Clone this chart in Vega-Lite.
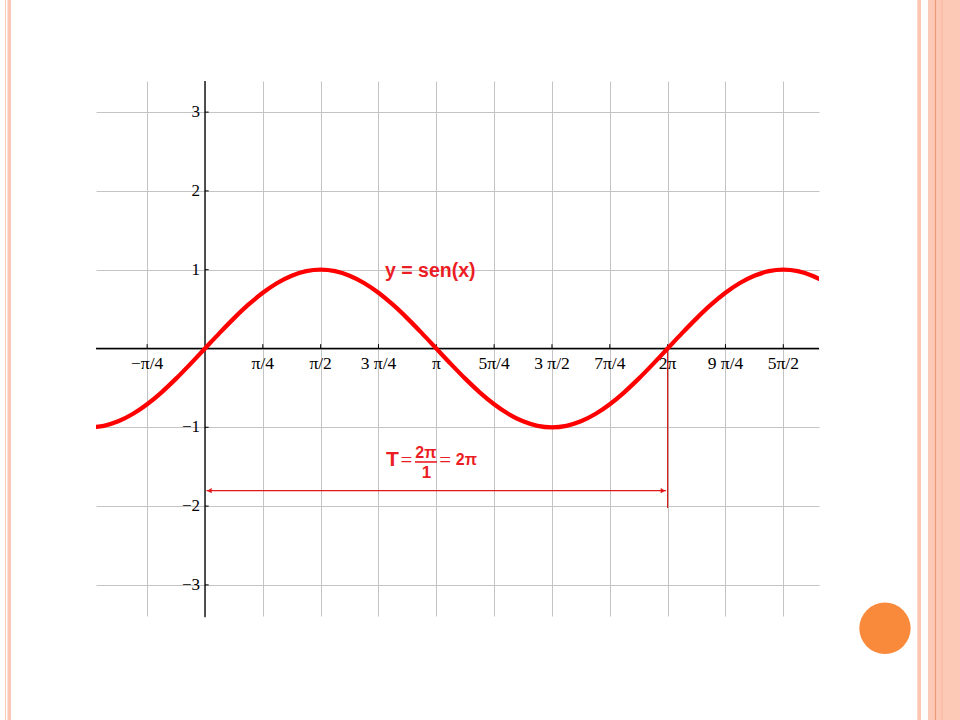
{
  "$schema": "https://vega.github.io/schema/vega-lite/v6.json",
  "width": 723,
  "height": 535,
  "autosize": {"type": "none"},
  "padding": {"left": 96, "top": 81, "right": 141, "bottom": 104},
  "background": "white",
  "config": {"view": {"stroke": null}},
  "datasets": {
    "curve": [
      {"x": -1.48, "y": -0.99588},
      {"x": -1.37445, "y": -0.98079},
      {"x": -1.1781, "y": -0.92388},
      {"x": -0.98175, "y": -0.83147},
      {"x": -0.7854, "y": -0.70711},
      {"x": -0.58905, "y": -0.55557},
      {"x": -0.3927, "y": -0.38268},
      {"x": -0.19635, "y": -0.19509},
      {"x": 0, "y": 0},
      {"x": 0.19635, "y": 0.19509},
      {"x": 0.3927, "y": 0.38268},
      {"x": 0.58905, "y": 0.55557},
      {"x": 0.7854, "y": 0.70711},
      {"x": 0.98175, "y": 0.83147},
      {"x": 1.1781, "y": 0.92388},
      {"x": 1.37445, "y": 0.98079},
      {"x": 1.5708, "y": 1},
      {"x": 1.76715, "y": 0.98079},
      {"x": 1.9635, "y": 0.92388},
      {"x": 2.15984, "y": 0.83147},
      {"x": 2.35619, "y": 0.70711},
      {"x": 2.55254, "y": 0.55557},
      {"x": 2.74889, "y": 0.38268},
      {"x": 2.94524, "y": 0.19509},
      {"x": 3.14159, "y": 0},
      {"x": 3.33794, "y": -0.19509},
      {"x": 3.53429, "y": -0.38268},
      {"x": 3.73064, "y": -0.55557},
      {"x": 3.92699, "y": -0.70711},
      {"x": 4.12334, "y": -0.83147},
      {"x": 4.31969, "y": -0.92388},
      {"x": 4.51604, "y": -0.98079},
      {"x": 4.71239, "y": -1},
      {"x": 4.90874, "y": -0.98079},
      {"x": 5.10509, "y": -0.92388},
      {"x": 5.30144, "y": -0.83147},
      {"x": 5.49779, "y": -0.70711},
      {"x": 5.69414, "y": -0.55557},
      {"x": 5.89049, "y": -0.38268},
      {"x": 6.08684, "y": -0.19509},
      {"x": 6.28319, "y": 0},
      {"x": 6.47953, "y": 0.19509},
      {"x": 6.67588, "y": 0.38268},
      {"x": 6.87223, "y": 0.55557},
      {"x": 7.06858, "y": 0.70711},
      {"x": 7.26493, "y": 0.83147},
      {"x": 7.46128, "y": 0.92388},
      {"x": 7.65763, "y": 0.98079},
      {"x": 7.85398, "y": 1},
      {"x": 8.05033, "y": 0.98079},
      {"x": 8.24668, "y": 0.92388},
      {"x": 8.339, "y": 0.8845}
    ],
    "xlab": [
      {"x": -0.7854, "y": 0, "t": "−π/4"},
      {"x": 0.7854, "y": 0, "t": "π/4"},
      {"x": 1.5708, "y": 0, "t": "π/2"},
      {"x": 2.3562, "y": 0, "t": "3 π/4"},
      {"x": 3.1416, "y": 0, "t": "π"},
      {"x": 3.927, "y": 0, "t": "5π/4"},
      {"x": 4.7124, "y": 0, "t": "3 π/2"},
      {"x": 5.4978, "y": 0, "t": "7π/4"},
      {"x": 6.2832, "y": 0, "t": "2π"},
      {"x": 7.0686, "y": 0, "t": "9 π/4"},
      {"x": 7.854, "y": 0, "t": "5π/2"}
    ],
    "ylab": [
      {"x": 0, "y": 3, "t": "3"},
      {"x": 0, "y": 2, "t": "2"},
      {"x": 0, "y": 1, "t": "1"},
      {"x": 0, "y": -1, "t": "−1"},
      {"x": 0, "y": -2, "t": "−2"},
      {"x": 0, "y": -3, "t": "−3"}
    ],
    "xticks": [
      {"x": -0.7854, "y": 0, "y2": 0.055},
      {"x": 0.7854, "y": 0, "y2": 0.055},
      {"x": 1.5708, "y": 0, "y2": 0.055},
      {"x": 2.3562, "y": 0, "y2": 0.055},
      {"x": 3.1416, "y": 0, "y2": 0.055},
      {"x": 3.927, "y": 0, "y2": 0.055},
      {"x": 4.7124, "y": 0, "y2": 0.055},
      {"x": 5.4978, "y": 0, "y2": 0.055},
      {"x": 6.2832, "y": 0, "y2": 0.055},
      {"x": 7.0686, "y": 0, "y2": 0.055},
      {"x": 7.854, "y": 0, "y2": 0.055}
    ],
    "yticks": [
      {"x": 0, "x2": 0.05, "y": 3},
      {"x": 0, "x2": 0.05, "y": 2},
      {"x": 0, "x2": 0.05, "y": 1},
      {"x": 0, "x2": 0.05, "y": -1},
      {"x": 0, "x2": 0.05, "y": -2},
      {"x": 0, "x2": 0.05, "y": -3}
    ],
    "hax": [{"x": -1.48, "x2": 8.339, "y": 0}],
    "vax": [{"x": 0, "y": -3.41, "y2": 3.395}],
    "arrowline": [{"x": 0.02, "x2": 6.26, "y": -1.805}],
    "vline": [{"x": 6.2832, "y": 0, "y2": -2.025}],
    "headL": [{"x": 0.06, "y": -1.805}],
    "headR": [{"x": 6.22, "y": -1.805}],
    "bar": [{"x": 2.852, "x2": 3.151, "y": -1.44}],
    "label": [{"x": 2.445, "y": 0.98, "t": "y = sen(x)"}],
    "tbig": [{"x": 2.458, "y": -1.415, "t": "T"}],
    "teq": [{"x": 2.655, "y": -1.425, "t": "="}, {"x": 3.18, "y": -1.425, "t": "="}],
    "tnum": [{"x": 3.001, "y": -1.326, "t": "2π"}, {"x": 3.551, "y": -1.42, "t": "2π"}],
    "tden": [{"x": 3.008, "y": -1.58, "t": "1"}],
    "stripeWide": [{"x": 9.82, "x2": 10.4, "y": -4.9, "y2": 4.6}],
    "stripeThin": [{"x": 9.674, "x2": 9.724, "y": -4.9, "y2": 4.6}, {"x": -2.716, "x2": -2.703, "y": -4.9, "y2": 4.6}, {"x": -2.682, "x2": -2.635, "y": -4.9, "y2": 4.6}],
    "stripeLine": [{"x": 9.921, "y": -4.9, "y2": 4.6}],
    "stripeLine2": [{"x": 10.01, "y": -4.9, "y2": 4.6}],
    "dot": [{"x": 9.235, "y": -3.551}]
  },
  "encoding": {
    "x": {
      "field": "x",
      "type": "quantitative",
      "scale": {"domain": [-1.48, 8.339], "nice": false, "zero": false},
      "axis": {
        "values": [-0.7854, 0, 0.7854, 1.5708, 2.3562, 3.1416, 3.927, 4.7124, 5.4978, 6.2832, 7.0686, 7.854],
        "grid": true, "gridColor": "#c4c4c4", "gridWidth": 1,
        "labels": false, "ticks": false, "domain": false, "title": null
      }
    },
    "y": {
      "field": "y",
      "type": "quantitative",
      "scale": {"domain": [-3.395, 3.395], "nice": false, "zero": false},
      "axis": {
        "values": [-3, -2, -1, 0, 1, 2, 3],
        "grid": true, "gridColor": "#c4c4c4", "gridWidth": 1,
        "labels": false, "ticks": false, "domain": false, "title": null
      }
    }
  },
  "layer": [
    {"data": {"name": "stripeWide"}, "mark": {"type": "rect", "color": "#fbc9b6"}, "encoding": {"x2": {"field": "x2"}, "y2": {"field": "y2"}}},
    {"data": {"name": "stripeThin"}, "mark": {"type": "rect", "color": "#fbc6b2"}, "encoding": {"x2": {"field": "x2"}, "y2": {"field": "y2"}}},
    {"data": {"name": "stripeLine"}, "mark": {"type": "rule", "color": "#ef9a78", "strokeWidth": 1.2}, "encoding": {"y2": {"field": "y2"}}},
    {"data": {"name": "stripeLine2"}, "mark": {"type": "rule", "color": "#f7b59c", "strokeWidth": 1}, "encoding": {"y2": {"field": "y2"}}},
    {"data": {"name": "dot"}, "mark": {"type": "point", "shape": "circle", "filled": true, "size": 2640, "color": "#f98a3b", "opacity": 1}},
    {"data": {"name": "hax"}, "mark": {"type": "rule", "color": "black", "strokeWidth": 1.3}, "encoding": {"x2": {"field": "x2"}}},
    {"data": {"name": "vax"}, "mark": {"type": "rule", "color": "black", "strokeWidth": 1.3}, "encoding": {"y2": {"field": "y2"}}},
    {"data": {"name": "xticks"}, "mark": {"type": "rule", "color": "black", "strokeWidth": 1}, "encoding": {"y2": {"field": "y2"}}},
    {"data": {"name": "yticks"}, "mark": {"type": "rule", "color": "black", "strokeWidth": 1}, "encoding": {"x2": {"field": "x2"}}},
    {"data": {"name": "vline"}, "mark": {"type": "rule", "color": "#d41a1a", "strokeWidth": 1.2}, "encoding": {"y2": {"field": "y2"}}},
    {"data": {"name": "arrowline"}, "mark": {"type": "rule", "color": "#e01818", "strokeWidth": 1.2}, "encoding": {"x2": {"field": "x2"}}},
    {"data": {"name": "headL"}, "mark": {"type": "point", "shape": "triangle-left", "filled": true, "size": 28, "color": "#e01818", "opacity": 1}},
    {"data": {"name": "headR"}, "mark": {"type": "point", "shape": "triangle-right", "filled": true, "size": 28, "color": "#e01818", "opacity": 1}},
    {"data": {"name": "xlab"}, "mark": {"type": "text", "font": "Liberation Serif", "fontSize": 17.5, "color": "black", "align": "center", "baseline": "alphabetic", "dy": 20}, "encoding": {"text": {"field": "t"}}},
    {"data": {"name": "ylab"}, "mark": {"type": "text", "font": "Liberation Serif", "fontSize": 17, "color": "black", "align": "right", "baseline": "middle", "dx": -5}, "encoding": {"text": {"field": "t"}}},
    {"data": {"name": "curve"}, "mark": {"type": "line", "color": "#ff0000", "strokeWidth": 4.3, "interpolate": "monotone", "clip": true, "strokeCap": "round"}},
    {"data": {"name": "label"}, "mark": {"type": "text", "font": "Liberation Sans", "fontWeight": "bold", "fontSize": 19.5, "color": "#ec1c24", "align": "left", "baseline": "middle"}, "encoding": {"text": {"field": "t"}}},
    {"data": {"name": "tbig"}, "mark": {"type": "text", "font": "Liberation Sans", "fontWeight": "bold", "fontSize": 21, "color": "#ec1c24", "align": "left", "baseline": "middle"}, "encoding": {"text": {"field": "t"}}},
    {"data": {"name": "teq"}, "mark": {"type": "text", "font": "Liberation Serif", "fontSize": 21, "color": "#ec1c24", "align": "left", "baseline": "middle"}, "encoding": {"text": {"field": "t"}}},
    {"data": {"name": "tnum"}, "mark": {"type": "text", "font": "Liberation Sans", "fontWeight": "bold", "fontSize": 16, "color": "#ec1c24", "align": "center", "baseline": "middle"}, "encoding": {"text": {"field": "t"}}},
    {"data": {"name": "tden"}, "mark": {"type": "text", "font": "Liberation Sans", "fontWeight": "bold", "fontSize": 17, "color": "#ec1c24", "align": "center", "baseline": "middle"}, "encoding": {"text": {"field": "t"}}},
    {"data": {"name": "bar"}, "mark": {"type": "rule", "color": "#ec1c24", "strokeWidth": 1.6}, "encoding": {"x2": {"field": "x2"}}}
  ]
}
